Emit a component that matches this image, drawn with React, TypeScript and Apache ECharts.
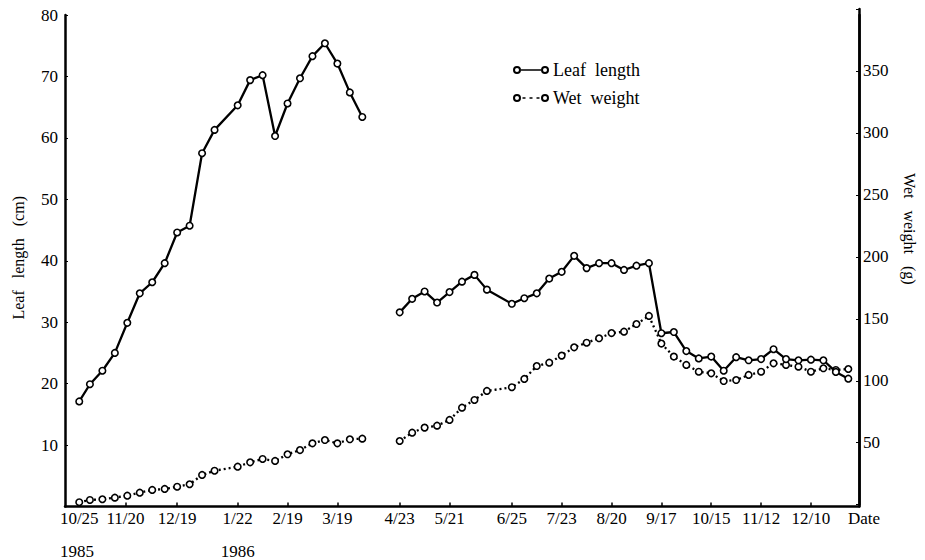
import React, { useEffect, useRef } from "react";
import * as echarts from "echarts";

// ---- Data ----
const datesSeg1 = [
  "1985-10-25", "1985-10-31", "1985-11-07", "1985-11-14", "1985-11-21", "1985-11-28",
  "1985-12-05", "1985-12-12", "1985-12-19", "1985-12-26", "1986-01-02", "1986-01-09",
  "1986-01-22", "1986-01-29", "1986-02-05", "1986-02-12", "1986-02-19", "1986-02-26",
  "1986-03-05", "1986-03-12", "1986-03-19", "1986-03-26", "1986-04-02",
];
const leafLengthSeg1 = [
  17.1, 19.9, 22.1, 25.0, 29.9, 34.7, 36.5, 39.6, 44.6, 45.7, 57.5, 61.3,
  65.3, 69.4, 70.2, 60.3, 65.6, 69.7, 73.3, 75.4, 72.1, 67.4, 63.4,
];
const wetWeightSeg1 = [
  2, 3.8, 4.4, 5.7, 7.3, 9.7, 11.9, 12.7, 14.5, 16.5, 24, 27.4,
  30.7, 34.2, 36.9, 35.3, 40.7, 44.1, 49.5, 52.2, 49.5, 52.8, 53.3,
];

const datesSeg2 = [
  "1986-04-23", "1986-04-30", "1986-05-07", "1986-05-14", "1986-05-21", "1986-05-28",
  "1986-06-04", "1986-06-11", "1986-06-25", "1986-07-02", "1986-07-09", "1986-07-16",
  "1986-07-23", "1986-07-30", "1986-08-06", "1986-08-13", "1986-08-20", "1986-08-27",
  "1986-09-03", "1986-09-10", "1986-09-17", "1986-09-24", "1986-10-01", "1986-10-08",
  "1986-10-15", "1986-10-22", "1986-10-29", "1986-11-05", "1986-11-12", "1986-11-19",
  "1986-11-26", "1986-12-03", "1986-12-10", "1986-12-17", "1986-12-24", "1986-12-31",
];
const leafLengthSeg2 = [
  31.6, 33.8, 35.0, 33.2, 34.9, 36.6, 37.7, 35.3, 33.0, 33.9, 34.7, 37.1,
  38.2, 40.8, 38.8, 39.6, 39.6, 38.5, 39.2, 39.6, 28.2, 28.4, 25.3, 24.1,
  24.4, 22.1, 24.3, 23.8, 24.0, 25.6, 24.0, 23.8, 23.9, 23.8, 21.9, 20.8,
];
const wetWeightSeg2 = [
  51.4, 58.1, 62.2, 63.8, 68.4, 78.3, 84.5, 91.8, 94.8, 101.5, 111.9, 114.6,
  120.3, 127, 130.7, 134.3, 138.5, 139.6, 145.8, 152.3, 130, 119.5, 112.8, 107.3,
  106, 99.8, 100.6, 104.7, 107.3, 114.1, 112.8, 111.4, 107.3, 110.1, 108.7, 109.5,
];

const tickDates = [
  "1985-10-25", "1985-11-20", "1985-12-19", "1986-01-22", "1986-02-19", "1986-03-19",
  "1986-04-23", "1986-05-21", "1986-06-25", "1986-07-23", "1986-08-20", "1986-09-17",
  "1986-10-15", "1986-11-12", "1986-12-10",
];
const tickLabels = [
  "10/25", "11/20", "12/19", "1/22", "2/19", "3/19", "4/23", "5/21", "6/25",
  "7/23", "8/20", "9/17", "10/15", "11/12", "12/10",
];
const yearLabelDates = ["1985-10-25", "1986-01-22"];
const yearLabels = ["1985", "1986"];

const FONT = "'Liberation Serif', 'DejaVu Serif', serif";
const ORIGIN = Date.UTC(1985, 9, 25);
const DAY_MIN = -8;
const DAY_MAX = 438;

function dayOf(s: string): number {
  const [y, m, d] = s.split("-").map(Number);
  return Math.round((Date.UTC(y, m - 1, d) - ORIGIN) / 86400000);
}

const SOLID_ICON =
  "path://M0 4A4 4 0 1 1 8 4A4 4 0 1 1 0 4ZM2 4A2 2 0 1 0 6 4A2 2 0 1 0 2 4Z" +
  "M8 3.2L28 3.2L28 4.8L8 4.8Z" +
  "M28 4A4 4 0 1 1 36 4A4 4 0 1 1 28 4ZM30 4A2 2 0 1 0 34 4A2 2 0 1 0 30 4Z";
const DOTTED_ICON =
  "path://M0 4A4 4 0 1 1 8 4A4 4 0 1 1 0 4ZM2 4A2 2 0 1 0 6 4A2 2 0 1 0 2 4Z" +
  "M9.5 3.2L12.5 3.2L12.5 4.8L9.5 4.8Z" +
  "M16.5 3.2L19.5 3.2L19.5 4.8L16.5 4.8Z" +
  "M23.5 3.2L26.5 3.2L26.5 4.8L23.5 4.8Z" +
  "M28 4A4 4 0 1 1 36 4A4 4 0 1 1 28 4ZM30 4A2 2 0 1 0 34 4A2 2 0 1 0 30 4Z";

export default function App() {
  const ref = useRef<HTMLDivElement>(null);

  useEffect(() => {
    if (!ref.current) return;
    const chart = echarts.init(ref.current, undefined, { renderer: "svg" });

    const cats: string[] = [];
    for (let d = DAY_MIN; d <= DAY_MAX; d++) cats.push(String(d));

    const labelByDay: Record<string, string> = {};
    tickDates.forEach((s, i) => (labelByDay[String(dayOf(s))] = tickLabels[i]));
    const yearByDay: Record<string, string> = {};
    yearLabelDates.forEach((s, i) => (yearByDay[String(dayOf(s))] = yearLabels[i]));

    const isTick = (_i: number, v: string) => labelByDay[v] !== undefined;
    const toIdx = (s: string) => dayOf(s) - DAY_MIN;

    const pts = (dates: string[], vals: number[]) =>
      dates.map((s, i) => [toIdx(s), vals[i]]);

    const symbolStyle = { color: "#fff", borderColor: "#000", borderWidth: 1.6 };
    const leafCommon = {
      type: "line",
      name: "Leaf length",
      xAxisIndex: 0,
      yAxisIndex: 0,
      symbol: "circle",
      symbolSize: 6.5,
      showSymbol: true,
      showAllSymbol: true,
      itemStyle: symbolStyle,
      lineStyle: { color: "#000", width: 2.3 },
      emphasis: { disabled: true },
      z: 3,
    };
    const wetCommon = {
      type: "line",
      name: "Wet weight",
      xAxisIndex: 1,
      yAxisIndex: 2,
      symbol: "circle",
      symbolSize: 6.5,
      showSymbol: true,
      showAllSymbol: true,
      itemStyle: symbolStyle,
      lineStyle: { color: "#000", width: 2.3, type: [2, 3] },
      emphasis: { disabled: true },
      z: 2,
    };

    const axisText = { fontFamily: FONT, fontSize: 17, color: "#000" };

    chart.setOption({
      animation: false,
      backgroundColor: "#fff",
      grid: [
        { left: 65, right: 66, top: 15, bottom: 52 },
        { left: 65, right: 66, top: 9, bottom: 55.3 },
      ],
      legend: {
        orient: "vertical",
        left: 508,
        top: 56,
        itemWidth: 36,
        itemHeight: 8,
        itemGap: 10,
        selectedMode: false,
        data: [
          { name: "Leaf length", icon: SOLID_ICON },
          { name: "Wet weight", icon: DOTTED_ICON },
        ],
        formatter: (n: string) => n.replace(" ", "  "),
        itemStyle: { color: "#000", borderWidth: 0 },
        textStyle: { fontFamily: FONT, fontSize: 18, color: "#000", lineHeight: 18, padding: [0, 0, 0, -1] },
      },
      xAxis: [
        {
          type: "category",
          gridIndex: 0,
          data: cats,
          boundaryGap: false,
          axisLine: { lineStyle: { color: "#000", width: 2.5 } },
          axisTick: { interval: isTick, inside: true, length: 4, lineStyle: { color: "#000", width: 1.5 } },
          axisLabel: {
            interval: isTick,
            margin: 2,
            formatter: (v: string) => {
              const lab = labelByDay[v] || "";
              const yr = yearByDay[v];
              return yr ? `{d|${lab}}\n{y|${yr}}` : `{d|${lab}}`;
            },
            rich: {
              d: { ...axisText, lineHeight: 20 },
              y: { ...axisText, lineHeight: 46, align: "left" },
            },
          },
          name: "Date",
          nameLocation: "end",
          nameGap: -11,
          nameTextStyle: { ...axisText, align: "left", verticalAlign: "top", lineHeight: 20, padding: [2, 0, 0, 0] },
        },
        {
          type: "category",
          gridIndex: 1,
          data: cats,
          boundaryGap: false,
          show: false,
        },
      ],
      yAxis: [
        {
          type: "value",
          gridIndex: 0,
          position: "left",
          min: 0,
          max: 80,
          interval: 10,
          axisLine: { show: true, lineStyle: { color: "#000", width: 2.5 } },
          axisTick: { show: true, inside: true, length: 3, lineStyle: { color: "#000" } },
          splitLine: { show: false },
          axisLabel: { ...axisText, margin: 7, formatter: (v: number) => (v === 0 ? "" : String(v)) },
          name: "Leaf   length   (cm)",
          nameLocation: "middle",
          nameGap: 39,
          nameRotate: 90,
          nameTextStyle: { fontFamily: FONT, fontSize: 16, color: "#000", padding: [0, 0, 0, 6] },
        },
        {
          type: "value",
          gridIndex: 0,
          position: "right",
          min: 0,
          max: 80,
          interval: 10,
          axisLine: { show: true, lineStyle: { color: "#000", width: 2.5 } },
          axisTick: { show: false },
          axisLabel: { show: false },
          splitLine: { show: false },
        },
        {
          type: "value",
          gridIndex: 1,
          position: "right",
          min: 0,
          max: 400,
          interval: 50,
          axisLine: { show: true, lineStyle: { color: "#000", width: 2.5 } },
          axisTick: { show: true, inside: true, length: 3, lineStyle: { color: "#000" } },
          splitLine: { show: false },
          axisLabel: {
            ...axisText,
            margin: 4,
            formatter: (v: number) => (v === 0 || v === 400 ? "" : String(v)),
          },
          name: "Wet   weight   (g)",
          nameLocation: "middle",
          nameGap: 42,
          nameRotate: -90,
          nameTextStyle: { fontFamily: FONT, fontSize: 16, color: "#000", padding: [0, 56, 0, 0] },
        },
      ],
      series: [
        { ...leafCommon, data: pts(datesSeg1, leafLengthSeg1) },
        { ...leafCommon, data: pts(datesSeg2, leafLengthSeg2) },
        { ...wetCommon, data: pts(datesSeg1, wetWeightSeg1) },
        { ...wetCommon, data: pts(datesSeg2, wetWeightSeg2) },
      ],
    });

    return () => chart.dispose();
  }, []);

  return (
    <div
      ref={ref}
      style={{ position: "fixed", left: 0, top: 0, width: 925, height: 560, background: "#fff" }}
    />
  );
}
